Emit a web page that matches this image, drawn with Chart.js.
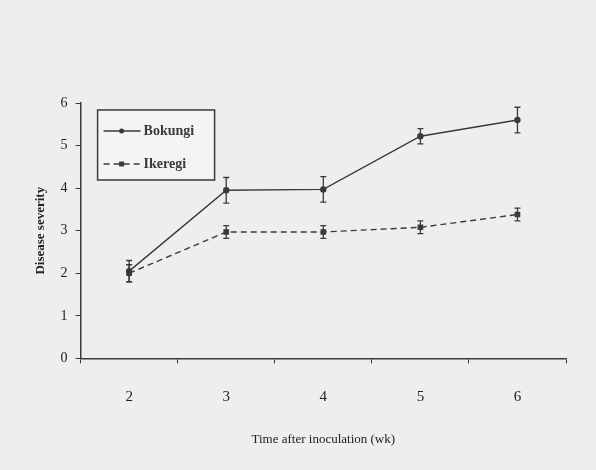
<!DOCTYPE html>
<html>
<head>
<meta charset="utf-8">
<script src="https://cdn.jsdelivr.net/npm/chart.js@4/dist/chart.umd.min.js"></script>
<style>
  html, body { margin: 0; padding: 0; background: #eeeeee; }
  #wrap { width: 596px; height: 470px; }
</style>
</head>
<body>
<div id="wrap"><canvas id="chart" width="596" height="470"></canvas></div>
<script>
// data
var weeks = ['2', '3', '4', '5', '6'];
var bokungi = [2.05, 3.95, 3.97, 5.22, 5.6];
var bokungiErr = [0.25, 0.3, 0.3, 0.18, 0.3];
var ikeregi = [2.0, 2.97, 2.97, 3.08, 3.38];
var ikeregiErr = [0.2, 0.15, 0.15, 0.15, 0.15];
var yTicks = [0, 1, 2, 3, 4, 5, 6];

var ink = '#3a3a3a';
var serif = "'Liberation Serif', 'DejaVu Serif', serif";

// vertical error bars drawn from the y scale
var errorBars = {
    id: 'errorBars',
    afterDatasetsDraw: function (chart) {
        var ctx = chart.ctx;
        var y = chart.scales.y;
        chart.data.datasets.forEach(function (ds, i) {
            var meta = chart.getDatasetMeta(i);
            ctx.save();
            ctx.strokeStyle = ink;
            ctx.lineWidth = 1.3;
            meta.data.forEach(function (pt, j) {
                var v = ds.data[j], e = ds.errors[j];
                var top = y.getPixelForValue(v + e), bot = y.getPixelForValue(v - e);
                ctx.beginPath();
                ctx.moveTo(pt.x, top); ctx.lineTo(pt.x, bot);
                ctx.moveTo(pt.x - 3, top); ctx.lineTo(pt.x + 3, top);
                ctx.moveTo(pt.x - 3, bot); ctx.lineTo(pt.x + 3, bot);
                ctx.stroke();
            });
            ctx.restore();
        });
    }
};

// boxed legend in the top-left of the plot
var boxLegend = {
    id: 'boxLegend',
    afterDraw: function (chart) {
        var ctx = chart.ctx;
        var a = chart.chartArea;
        var x0 = a.left + 17, y0 = a.top + 7;
        ctx.save();
        ctx.fillStyle = '#f4f4f4';
        ctx.fillRect(x0, y0, 117, 70);
        ctx.strokeStyle = ink;
        ctx.lineWidth = 1.5;
        ctx.strokeRect(x0, y0, 117, 70);
        chart.data.datasets.forEach(function (ds, i) {
            var cy = y0 + 21 + i * 33;
            ctx.strokeStyle = ink;
            ctx.lineWidth = 1.3;
            ctx.setLineDash(ds.borderDash || []);
            ctx.beginPath();
            ctx.moveTo(x0 + 6, cy); ctx.lineTo(x0 + 43, cy);
            ctx.stroke();
            ctx.setLineDash([]);
            ctx.fillStyle = ink;
            if (ds.pointStyle === 'rect') {
                ctx.fillRect(x0 + 21.5, cy - 2.5, 5, 5);
            } else {
                ctx.beginPath();
                ctx.arc(x0 + 24, cy, 2.5, 0, Math.PI * 2);
                ctx.fill();
            }
            ctx.font = 'bold 14px ' + serif;
            ctx.textBaseline = 'middle';
            ctx.fillText(ds.label, x0 + 46, cy);
        });
        ctx.restore();
    }
};

new Chart(document.getElementById('chart'), {
    type: 'line',
    data: {
        labels: weeks,
        datasets: [{
            label: 'Bokungi',
            data: bokungi,
            errors: bokungiErr,
            borderColor: ink,
            backgroundColor: ink,
            borderWidth: 1.4,
            pointStyle: 'circle',
            pointRadius: 2.5,
            tension: 0
        }, {
            label: 'Ikeregi',
            data: ikeregi,
            errors: ikeregiErr,
            borderColor: ink,
            backgroundColor: ink,
            borderWidth: 1.4,
            borderDash: [6, 4],
            pointStyle: 'rect',
            pointRadius: 3,
            tension: 0
        }]
    },
    options: {
        responsive: false,
        animation: false,
        layout: { padding: { top: 103, right: 30, left: 29, bottom: 19 } },
        plugins: {
            legend: { display: false },
            tooltip: { enabled: false }
        },
        scales: {
            x: {
                offset: true,
                grid: { offset: true, drawOnChartArea: false, tickLength: 5, color: ink },
                border: { color: ink, width: 1.5 },
                ticks: { color: '#222', padding: 25, font: { family: serif, size: 15 } },
                title: {
                    display: true,
                    text: 'Time after inoculation (wk)',
                    color: '#222',
                    padding: { top: 0 },
                    font: { family: serif, size: 13 }
                }
            },
            y: {
                min: 0,
                max: 6,
                afterBuildTicks: function (axis) {
                    axis.ticks = yTicks.map(function (v) { return { value: v }; });
                },
                grid: { drawOnChartArea: false, tickLength: 5, color: ink },
                border: { color: ink, width: 1.5 },
                ticks: { color: '#222', padding: 8, font: { family: serif, size: 14 } },
                title: {
                    display: true,
                    text: 'Disease severity',
                    color: '#222',
                    padding: { bottom: 4 },
                    font: { family: serif, size: 13, weight: 'bold' }
                }
            }
        }
    },
    plugins: [errorBars, boxLegend]
});
</script>
</body>
</html>
